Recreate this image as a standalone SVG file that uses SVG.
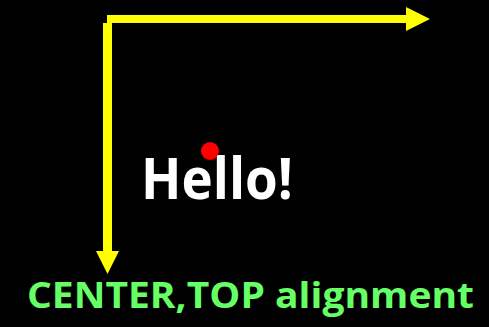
<svg xmlns="http://www.w3.org/2000/svg" width="489" height="327" viewBox="0 0 489 327">
<style>
.arr{fill:#ffff00;stroke:none}
.t{font-family:"Open Sans","Liberation Sans",sans-serif;font-weight:bold}
</style>
<rect x="0" y="0" width="489" height="327" fill="#000"/>
<g id="connectors">
<polygon class="arr" points="107,15 406,15 406,7 430,19 406,31 406,23 107,23"/>
<polygon class="arr" points="103,23 112,23 112,251 119,251 107.5,274 96,251 103,251"/>
</g>
<g id="hello">
<text class="t" x="141" y="199" font-size="58" fill="#ffffff" textLength="152" lengthAdjust="spacingAndGlyphs">Hello!</text>
<circle cx="210" cy="151" r="9" fill="#ff0000"/>
</g>
<g id="caption">
<text class="t" x="27" y="308" font-size="35" fill="#66ff66" textLength="447" lengthAdjust="spacingAndGlyphs">CENTER,TOP alignment</text>
</g>
</svg>
